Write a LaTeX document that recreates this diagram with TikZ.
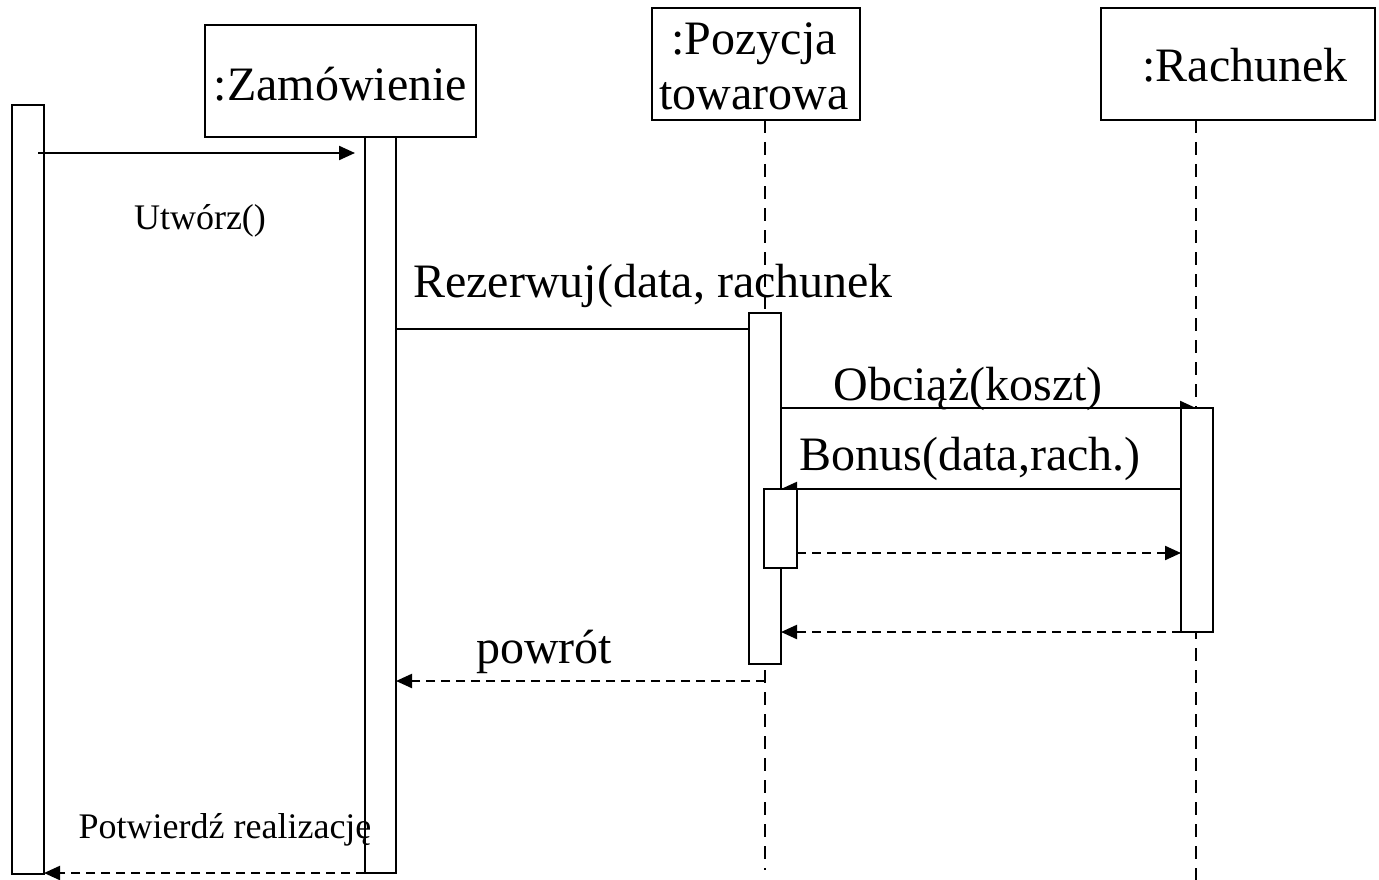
\documentclass[tikz,border=0pt]{standalone}
\usepackage{fontspec}
\setmainfont{Liberation Serif}
\usetikzlibrary{arrows.meta}
\begin{document}
\begin{tikzpicture}[x=1pt,y=-1pt,
  line width=2.2pt,
  objbox/.style={draw, fill=white, inner sep=0pt},
  actbar/.style={draw, fill=white, inner sep=0pt},
  lifeline/.style={dash pattern=on 13pt off 9pt, line width=1.8pt},
  msg/.style={-{Triangle[length=16pt,width=14pt]}},
  ret/.style={msg, dash pattern=on 9pt off 6pt},
  big/.style={font=\fontsize{48}{55}\selectfont, inner sep=0pt, anchor=base, align=center},
  small/.style={font=\fontsize{36}{40}\selectfont, inner sep=0pt, anchor=base}]
\useasboundingbox (0,0) rectangle (1379,880);

% object heads
\node[objbox, minimum width=271, minimum height=112] (zam) at (340.5,81) {};
\node[objbox, minimum width=208, minimum height=112] (poz) at (756,64) {};
\node[objbox, minimum width=274, minimum height=112] (rach) at (1238,64) {};
\node[big] (zamtxt) at (340.5,101) {:Zamówienie};
\node[big] (poztxt) at (754,110) {:Pozycja\\towarowa};
\node[big] (rachtxt) at (1245,82) {:Rachunek};

% lifelines
\coordinate (pozTop) at (765,120);
\coordinate (pozEnd) at (765,870);
\coordinate (rachTop) at (1196,120);
\coordinate (rachEnd) at (1196,880);
\draw[lifeline] (pozTop) -- (pozEnd);
\draw[lifeline] (rachTop) -- (rachEnd);

% message endpoints
\coordinate (m1a) at (38,153);   \coordinate (m1b) at (355,153);
\coordinate (m2a) at (396,329);  \coordinate (m2b) at (765,329);
\coordinate (m3a) at (781,408);  \coordinate (m3b) at (1196,408);
\coordinate (m4a) at (1181,489); \coordinate (m4b) at (781,489);
\coordinate (m5a) at (797,553);  \coordinate (m5b) at (1181,553);
\coordinate (m6a) at (1181,632); \coordinate (m6b) at (781,632);
\coordinate (m7a) at (765,681);  \coordinate (m7b) at (396,681);
\coordinate (m8a) at (365,873);  \coordinate (m8b) at (44,873);

% calls whose heads run under the activation bars
\draw[msg] (m2a) -- (m2b);
\draw[msg] (m3a) -- (m3b);
\draw[msg] (m4a) -- (m4b);

% activation bars
\node[actbar, minimum width=32, minimum height=769] (actor) at (28,489.5) {};
\node[actbar, minimum width=31, minimum height=736] (zbar) at (380.5,505) {};
\node[actbar, minimum width=32, minimum height=351] (pbar) at (765,488.5) {};
\node[actbar, minimum width=33, minimum height=79] (pbar2) at (780.5,528.5) {};
\node[actbar, minimum width=32, minimum height=224] (rbar) at (1197,520) {};

% remaining messages
\draw[msg] (m1a) -- (m1b);
\draw[ret] (m5a) -- (m5b);
\draw[ret] (m6a) -- (m6b);
\draw[ret] (m7a) -- (m7b);
\draw[ret] (m8a) -- (m8b);

% message labels
\node[small] (l1) at (200,229) {Utwórz()};
\node[big] (l2) at (653,297) {Rezerwuj(data, rachunek};
\node[big] (l3) at (968,400) {Obciąż(koszt)};
\node[big] (l4) at (970,470) {Bonus(data,rach.)};
\node[big] (l5) at (544,663) {powrót};
\node[small] (l6) at (225,838) {Potwierdź realizację};
\end{tikzpicture}
\end{document}
